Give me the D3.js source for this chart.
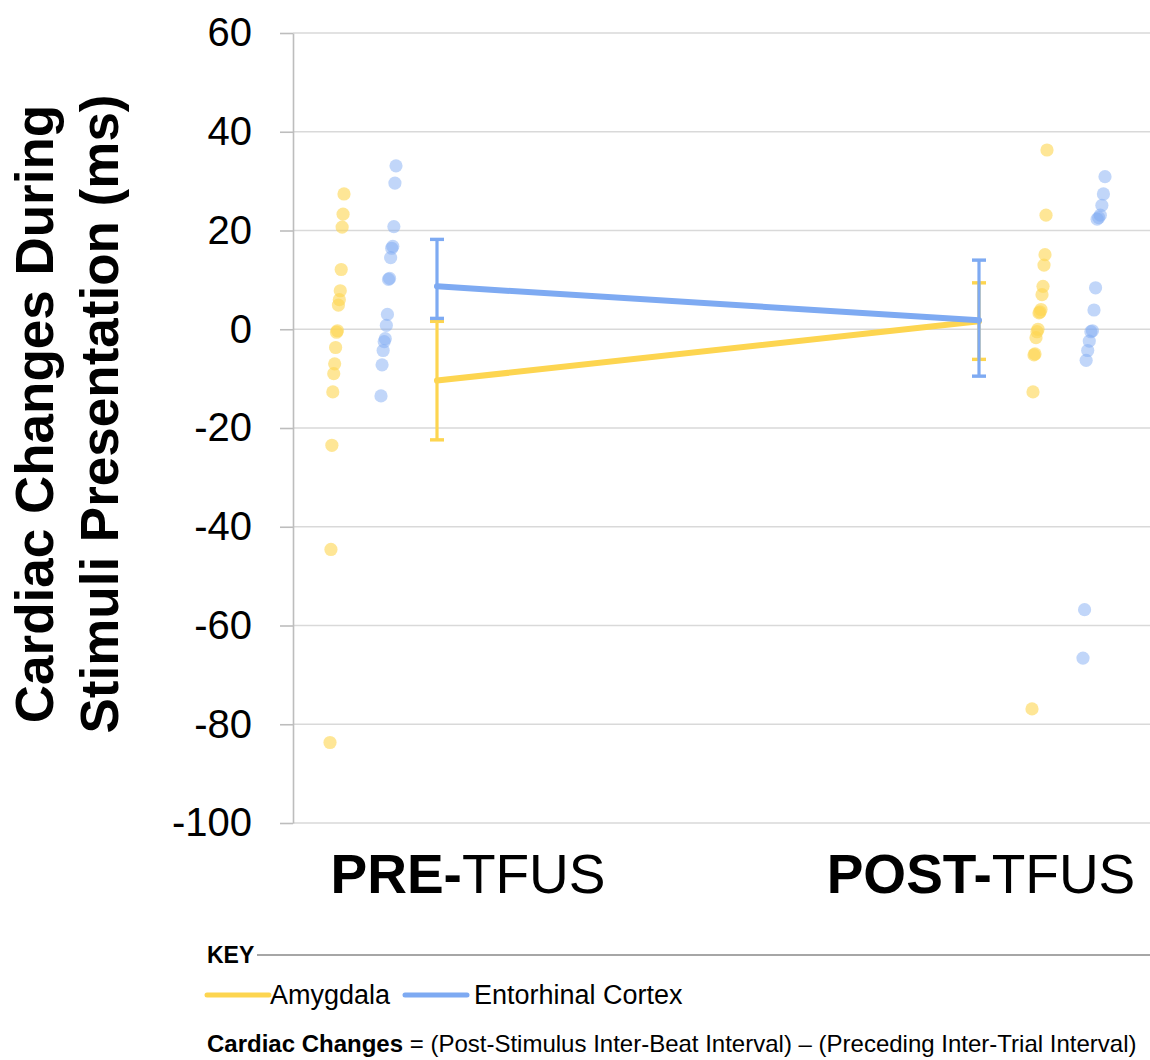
<!DOCTYPE html>
<html>
<head>
<meta charset="utf-8">
<script src="https://cdn.jsdelivr.net/npm/d3@7"></script>
<style>
  html, body { margin: 0; padding: 0; background: #fff; }
  svg { display: block; font-family: "Liberation Sans", Arial, Helvetica, sans-serif; }
</style>
</head>
<body>
<svg id="chart" width="1150" height="1060"></svg>
<script>
// ---------- DATA ----------
const categories = ["PRE-TFUS", "POST-TFUS"];
const categoryBold = ["PRE-", "POST-"];
const categoryRest = ["TFUS", "TFUS"];
const seriesNames = ["Amygdala", "Entorhinal Cortex"];
const yTicks = [-100, -80, -60, -40, -20, 0, 20, 40, 60];

// individual subject values (ms)
const preAmygdala = [27.4, 23.3, 20.7, 12.1, 7.8, 6.0, 4.9, -0.3, -0.6, -3.7, -7.0, -9.0, -12.7, -23.5, -44.6, -83.7];
const preEntorhinal = [33.1, 29.6, 20.8, 16.8, 16.4, 14.5, 10.3, 10.1, 3.0, 0.8, -1.9, -2.5, -4.3, -7.2, -13.5];
const postAmygdala = [36.3, 23.1, 15.1, 13.0, 8.7, 7.0, 4.0, 3.5, 3.3, 0.0, -0.5, -1.7, -5.0, -5.2, -12.7, -76.9];
const postEntorhinal = [30.9, 27.4, 25.1, 23.1, 22.6, 22.3, 8.4, 3.9, -0.3, -0.5, -2.4, -4.3, -6.3, -56.8, -66.6];

// means and error bar limits [PRE, POST]
const amygdalaMean = [-10.4, 1.6];
const amygdalaUpper = [1.6, 9.4];
const amygdalaLower = [-22.4, -6.1];
const entorhinalMean = [8.7, 1.8];
const entorhinalUpper = [18.2, 14.0];
const entorhinalLower = [2.2, -9.5];

// ---------- STYLE ----------
const yellow = "#FDD550";
const blue = "#7EAAF2";
const colors = [yellow, blue];

const svg = d3.select("#chart");
const plot = { left: 293, right: 1150, top: 33, bottom: 823 };

const y = d3.scaleLinear().domain([-100, 60]).range([plot.bottom, plot.top]);
const x = d3.scalePoint().domain(categories).range([437, 979]);

// gridlines
svg.append("g").selectAll("line").data(yTicks).join("line")
  .attr("x1", plot.left).attr("x2", plot.right)
  .attr("y1", d => y(d)).attr("y2", d => y(d))
  .attr("stroke", "#d9d9d9").attr("stroke-width", 1.6);

// y axis
const yAxis = svg.append("g")
  .attr("transform", `translate(${plot.left},0)`)
  .call(d3.axisLeft(y).tickValues(yTicks).tickSize(13).tickSizeOuter(0).tickPadding(28).tickFormat(d3.format("d")));
yAxis.select(".domain").attr("stroke", "#bdbdbd").attr("stroke-width", 1.6);
yAxis.selectAll(".tick line").attr("stroke", "#bdbdbd").attr("stroke-width", 1.6);
yAxis.selectAll(".tick text")
  .attr("font-size", 40).attr("fill", "#000")
  .attr("font-family", "'Liberation Sans', Arial, Helvetica, sans-serif")
  .text(d => d < 0 ? "-" + Math.abs(d) : d);

// y axis title
const yTitle = svg.append("text")
  .attr("transform", "translate(0,414) rotate(-90)")
  .attr("text-anchor", "middle")
  .attr("font-weight", "bold").attr("font-size", 53).attr("fill", "#000");
yTitle.append("tspan").attr("x", 0).attr("y", 53).text("Cardiac Changes During");
yTitle.append("tspan").attr("x", 0).attr("y", 118).text("Stimuli Presentation (ms)");

// ---------- individual dots ----------
const groups = [
  { cat: categories[0], s: 0, vals: preAmygdala, base: -107, spread: 14 },
  { cat: categories[0], s: 1, vals: preEntorhinal, base: -56, spread: 15 },
  { cat: categories[1], s: 0, vals: postAmygdala, base: 53, spread: 15 },
  { cat: categories[1], s: 1, vals: postEntorhinal, base: 104, spread: 22 }
];
const dotLayer = svg.append("g");
groups.forEach(g => {
  const sorted = g.vals.slice().sort((a, b) => a - b);
  const n = sorted.length;
  dotLayer.append("g").selectAll("circle").data(sorted).join("circle")
    .attr("cx", (d, i) => x(g.cat) + g.base + (n > 1 ? g.spread * i / (n - 1) : 0))
    .attr("cy", d => y(d))
    .attr("r", 6.6)
    .attr("fill", colors[g.s])
    .attr("fill-opacity", g.s === 0 ? 0.6 : 0.48);
});

// ---------- means, error bars ----------
const series = [
  { mean: amygdalaMean, up: amygdalaUpper, lo: amygdalaLower, color: yellow },
  { mean: entorhinalMean, up: entorhinalUpper, lo: entorhinalLower, color: blue }
];
const line = d3.line().x(d => x(d.cat)).y(d => y(d.v));
series.forEach(s => {
  const g = svg.append("g");
  categories.forEach((c, i) => {
    const cx = x(c);
    g.append("line").attr("x1", cx).attr("x2", cx)
      .attr("y1", y(s.up[i])).attr("y2", y(s.lo[i]))
      .attr("stroke", s.color).attr("stroke-width", 3.2);
    [s.up[i], s.lo[i]].forEach(v => {
      g.append("line").attr("x1", cx - 7).attr("x2", cx + 7)
        .attr("y1", y(v)).attr("y2", y(v))
        .attr("stroke", s.color).attr("stroke-width", 3.4);
    });
  });
  g.append("path")
    .datum(categories.map((c, i) => ({ cat: c, v: s.mean[i] })))
    .attr("d", line)
    .attr("fill", "none").attr("stroke", s.color).attr("stroke-width", 6)
    .attr("stroke-linecap", "round");
});

// ---------- x category labels ----------
const labelOffsets = [31, 2];
categories.forEach((c, i) => {
  const t = svg.append("text")
    .attr("x", x(c) + labelOffsets[i]).attr("y", 893)
    .attr("text-anchor", "middle").attr("font-size", 55).attr("fill", "#000");
  t.append("tspan").attr("font-weight", "bold").text(categoryBold[i]);
  t.append("tspan").text(categoryRest[i]);
});

// ---------- key ----------
svg.append("text").attr("x", 207).attr("y", 963)
  .attr("font-size", 23).attr("font-weight", "bold").attr("fill", "#000").text("KEY");
svg.append("line").attr("x1", 257).attr("x2", 1150).attr("y1", 955).attr("y2", 955)
  .attr("stroke", "#a6a6a6").attr("stroke-width", 2.2);

const legendX = [207, 405];
const legendTextX = [270, 474];
seriesNames.forEach((nm, i) => {
  svg.append("line").attr("x1", legendX[i]).attr("x2", legendX[i] + 62)
    .attr("y1", 995).attr("y2", 995)
    .attr("stroke", colors[i]).attr("stroke-width", 5).attr("stroke-linecap", "round");
  svg.append("text").attr("x", legendTextX[i]).attr("y", 1004)
    .attr("font-size", 27).attr("fill", "#000").text(nm);
});

const foot = svg.append("text").attr("x", 207).attr("y", 1052)
  .attr("font-size", 24).attr("fill", "#000");
foot.append("tspan").attr("font-weight", "bold").text("Cardiac Changes");
foot.append("tspan").text(" = (Post-Stimulus Inter-Beat Interval) \u2013 (Preceding Inter-Trial Interval)");
</script>
</body>
</html>
